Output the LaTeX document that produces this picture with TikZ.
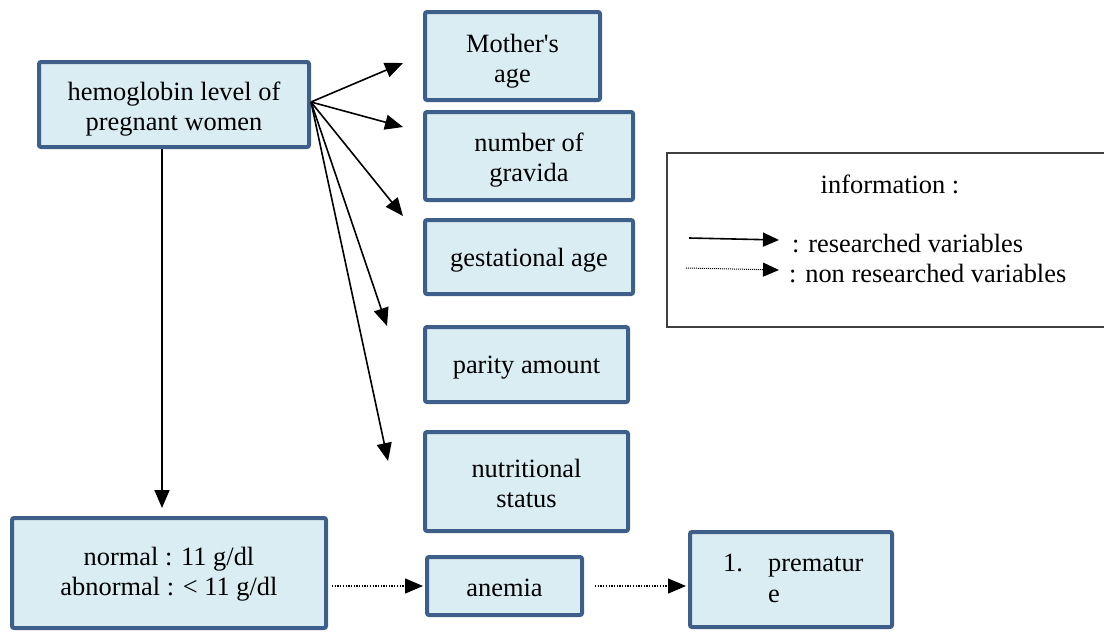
\documentclass[tikz,border=0pt]{standalone}
\usepackage{fontspec}
\setmainfont{Liberation Serif}
\usetikzlibrary{arrows.meta,calc}
\definecolor{boxblue}{HTML}{3D5F8A}
\definecolor{boxfill}{HTML}{DAEDF3}
\definecolor{legendgray}{HTML}{404040}
\begin{document}
\begin{tikzpicture}[x=1pt,y=-1pt,
 every node/.style={font=\fontsize{26.4}{30}\selectfont},
 vbox/.style={draw=boxblue,line width=4pt,fill=boxfill,rounded corners=2pt,inner sep=0pt},
 legendbox/.style={draw=legendgray,line width=1.5pt,inner sep=0pt},
 solidarrow/.style={line width=1.6pt,-{Triangle[length=18pt,width=15pt]}},
 dotarrow/.style={line width=1.3pt,dash pattern=on 1.3pt off 1.4pt,-{Triangle[length=18pt,width=15pt]}},
 plain/.style={inner sep=0pt,align=center},
]
\useasboundingbox (0,0) rectangle (1104,632);
% boxes
\node[vbox,minimum width=270,minimum height=85] (hemo) at (174,104.5) {};
\node[plain] (hemo-t) at ($(hemo)+(0,5)$) {hemoglobin level of\\pregnant women};
\node[vbox,minimum width=175,minimum height=88] (mother) at (512.5,56) {};
\node[plain] (mother-t) at ($(mother)+(0,5)$) {Mother\textquotesingle s\\age};
\node[vbox,minimum width=208,minimum height=88] (gravida) at (529,156) {};
\node[plain] (gravida-t) at ($(gravida)+(0,4)$) {number of\\gravida};
\node[vbox,minimum width=208,minimum height=74] (gest) at (529,257) {};
\node[plain] (gest-t) at ($(gest)+(0,3)$) {gestational age};
\node[vbox,minimum width=203,minimum height=75] (parity) at (526.5,364.5) {};
\node[plain] (parity-t) at ($(parity)+(0,3.5)$) {parity amount};
\node[vbox,minimum width=203,minimum height=99] (nutri) at (526.5,481.5) {};
\node[plain] (nutri-t) at ($(nutri)+(0,2)$) {nutritional\\status};
\node[vbox,minimum width=314,minimum height=110] (normal) at (169,573) {};
\node[plain] (normal-t) at ($(normal)+(0,1.5)$) {normal : 11 g/dl\\abnormal : {<} 11 g/dl};
\node[vbox,minimum width=155,minimum height=58] (anemia) at (504.5,586) {};
\node[plain] (anemia-t) at ($(anemia)+(0,2)$) {anemia};
\node[vbox,minimum width=202,minimum height=95] (prem) at (791,579.5) {};
\node[plain,anchor=base west] (p1) at (723,571) {1.};
\node[plain,anchor=base west] (p2) at (768,571) {prematur};
\node[plain,anchor=base west] (p3) at (768,602) {e};
% legend
\node[legendbox,minimum width=439,minimum height=174] (legend) at (886.5,240) {};
\node[plain] (info) at (890,184) {information :};
\node[plain,anchor=west] (lt1) at (792,244) {: researched variables};
\node[plain,anchor=west] (lt2) at (789,274) {: non researched variables};
\coordinate (l1s) at (689,238);
\coordinate (l1e) at (779,240);
\coordinate (l2s) at (686,268);
\coordinate (l2e) at (779,270);
\draw[solidarrow,-{Triangle[length=16pt,width=14pt]}] (l1s) -- (l1e);
\draw[line width=1pt,dash pattern=on 1pt off 1pt,-{Triangle[length=16pt,width=14pt]}] (l2s) -- (l2e);
% arrows from hemoglobin box
\coordinate (src) at (311,102);
\coordinate (t1) at (403,63);
\coordinate (t2) at (403,127);
\coordinate (t3) at (403,216);
\coordinate (t4) at (387,326);
\coordinate (t5) at (388,461);
\foreach \t in {t1,t2,t3,t4,t5} \draw[solidarrow] (src) -- (\t);
\coordinate (vtip) at (162,508);
\draw[solidarrow] (hemo.south -| vtip) -- (vtip);
% dotted connectors
\draw[dotarrow] ([xshift=4pt]normal.east |- anemia.west) -- ([xshift=-2pt]anemia.west);
\draw[dotarrow] ([xshift=11pt]anemia.east) -- ([xshift=-2pt]prem.west |- anemia.east);
\end{tikzpicture}
\end{document}
